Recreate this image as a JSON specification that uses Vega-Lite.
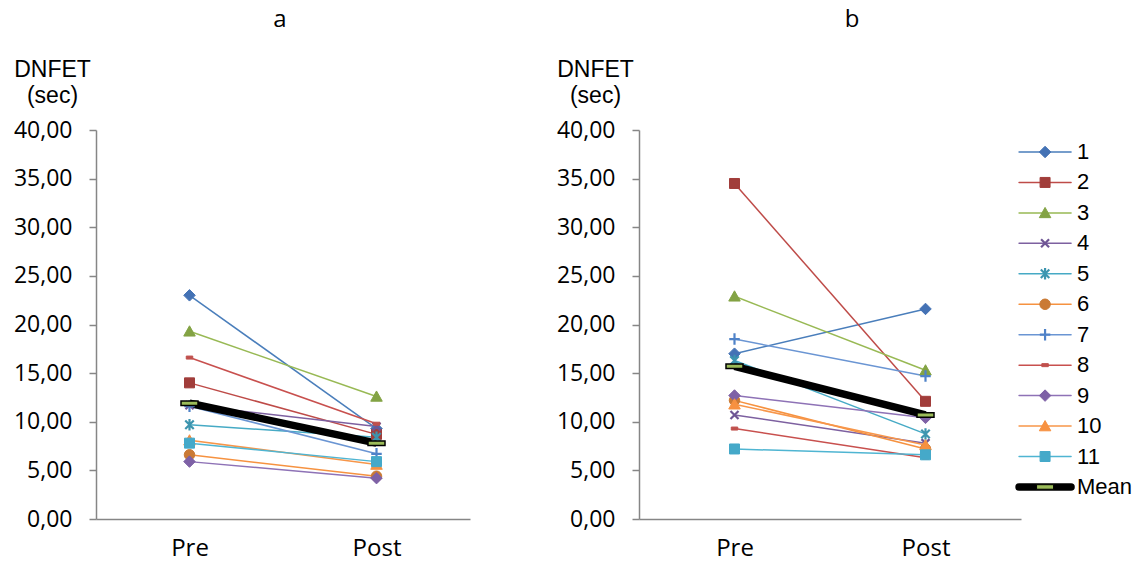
{
  "$schema": "https://vega.github.io/schema/vega-lite/v6.json",
  "background": "white",
  "padding": {"left": 13, "top": 8, "right": 0, "bottom": 0},
  "spacing": 86,
  "datasets": {
    "dnfet": [
      {"panel": "a", "series": "1", "time": "Pre", "value": 23.0},
      {"panel": "a", "series": "1", "time": "Post", "value": 9.3},
      {"panel": "a", "series": "2", "time": "Pre", "value": 14.0},
      {"panel": "a", "series": "2", "time": "Post", "value": 8.7},
      {"panel": "a", "series": "3", "time": "Pre", "value": 19.3},
      {"panel": "a", "series": "3", "time": "Post", "value": 12.6},
      {"panel": "a", "series": "4", "time": "Pre", "value": 11.7},
      {"panel": "a", "series": "4", "time": "Post", "value": 9.5},
      {"panel": "a", "series": "5", "time": "Pre", "value": 9.7},
      {"panel": "a", "series": "5", "time": "Post", "value": 8.4},
      {"panel": "a", "series": "6", "time": "Pre", "value": 6.6},
      {"panel": "a", "series": "6", "time": "Post", "value": 4.4},
      {"panel": "a", "series": "7", "time": "Pre", "value": 11.6},
      {"panel": "a", "series": "7", "time": "Post", "value": 6.7},
      {"panel": "a", "series": "8", "time": "Pre", "value": 16.6},
      {"panel": "a", "series": "8", "time": "Post", "value": 9.8},
      {"panel": "a", "series": "9", "time": "Pre", "value": 5.9},
      {"panel": "a", "series": "9", "time": "Post", "value": 4.2},
      {"panel": "a", "series": "10", "time": "Pre", "value": 8.1},
      {"panel": "a", "series": "10", "time": "Post", "value": 5.6},
      {"panel": "a", "series": "11", "time": "Pre", "value": 7.8},
      {"panel": "a", "series": "11", "time": "Post", "value": 5.9},
      {"panel": "a", "series": "Mean", "time": "Pre", "value": 11.9},
      {"panel": "a", "series": "Mean", "time": "Post", "value": 7.8},
      {"panel": "b", "series": "1", "time": "Pre", "value": 17.0},
      {"panel": "b", "series": "1", "time": "Post", "value": 21.6},
      {"panel": "b", "series": "2", "time": "Pre", "value": 34.5},
      {"panel": "b", "series": "2", "time": "Post", "value": 12.1},
      {"panel": "b", "series": "3", "time": "Pre", "value": 22.9},
      {"panel": "b", "series": "3", "time": "Post", "value": 15.3},
      {"panel": "b", "series": "4", "time": "Pre", "value": 10.7},
      {"panel": "b", "series": "4", "time": "Post", "value": 7.8},
      {"panel": "b", "series": "5", "time": "Pre", "value": 16.3},
      {"panel": "b", "series": "5", "time": "Post", "value": 8.75},
      {"panel": "b", "series": "6", "time": "Pre", "value": 12.2},
      {"panel": "b", "series": "6", "time": "Post", "value": 7.2},
      {"panel": "b", "series": "7", "time": "Pre", "value": 18.5},
      {"panel": "b", "series": "7", "time": "Post", "value": 14.7},
      {"panel": "b", "series": "8", "time": "Pre", "value": 9.3},
      {"panel": "b", "series": "8", "time": "Post", "value": 6.3},
      {"panel": "b", "series": "9", "time": "Pre", "value": 12.7},
      {"panel": "b", "series": "9", "time": "Post", "value": 10.4},
      {"panel": "b", "series": "10", "time": "Pre", "value": 11.8},
      {"panel": "b", "series": "10", "time": "Post", "value": 7.6},
      {"panel": "b", "series": "11", "time": "Pre", "value": 7.2},
      {"panel": "b", "series": "11", "time": "Post", "value": 6.6},
      {"panel": "b", "series": "Mean", "time": "Pre", "value": 15.7},
      {"panel": "b", "series": "Mean", "time": "Post", "value": 10.7}
    ],
    "legend": [
      {"series": "1"}, {"series": "2"}, {"series": "3"}, {"series": "4"},
      {"series": "5"}, {"series": "6"}, {"series": "7"}, {"series": "8"},
      {"series": "9"}, {"series": "10"}, {"series": "11"}, {"series": "Mean"}
    ]
  },
  "hconcat": [
    {
      "width": 374,
      "height": 389,
      "title": {"text": "a", "font": "Open Sans", "fontSize": 24, "fontWeight": "normal", "color": "#000000", "baseline": "alphabetic", "offset": 7, "anchor": "middle", "frame": "group", "dx": -3},
      "data": {"name": "dnfet"},
      "transform": [{"filter": "datum.panel === 'a'"}],
      "encoding": {
        "x": {"field": "time", "type": "nominal", "sort": ["Pre", "Post"], "scale": {"type": "point", "padding": 0.5},
          "axis": {"title": null, "labelFont": "Open Sans", "labelFontSize": 24, "labelColor": "#000000", "labelAngle": 0, "ticks": false, "domainColor": "#868686", "domainWidth": 1.5, "labelPadding": 17, "grid": false}},
        "y": {"field": "value", "type": "quantitative", "scale": {"domain": [0, 40], "nice": false},
          "axis": {"values": [0, 5, 10, 15, 20, 25, 30, 35, 40], "labelExpr": "replace(format(datum.value, '.2f'), '.', ',')", "labelFont": "Open Sans", "labelFontSize": 23, "labelColor": "#000000", "tickColor": "#868686", "tickSize": 7, "tickWidth": 1.5, "domainColor": "#868686", "domainWidth": 1.5, "labelPadding": 17, "grid": false,
            "title": ["DNFET", "(sec)"], "titleFont": "Liberation Sans", "titleFontSize": 23, "titleFontWeight": "normal", "titleColor": "#000000", "titleAngle": 0, "titleAlign": "center", "titleBaseline": "alphabetic", "titleX": -44, "titleY": -54, "titleLineHeight": 26}}
      },
      "layer": [
        {
          "transform": [{"filter": "datum.series !== 'Mean'"}],
          "mark": {"type": "line", "strokeWidth": 1.5},
          "encoding": {
            "color": {"field": "series", "type": "nominal", "legend": null,
              "scale": {"domain": ["1","2","3","4","5","6","7","8","9","10","11","Mean"], "range": ["#4A7EBB","#BE4B48","#98B954","#7D60A0","#46AAC5","#F69240","#6A95D3","#C8504E","#8E72B6","#F7964A","#4FB5D2","#000000"]}}
          }
        },
        {
          "transform": [{"filter": "datum.series === 'Mean'"}],
          "mark": {"type": "line", "strokeWidth": 7.5, "color": "#000000"},
          "encoding": {}
        },
        {
          "transform": [{"filter": "datum.series !== 'Mean'"}],
          "mark": {"type": "point", "filled": true, "size": 100, "opacity": 1},
          "encoding": {
            "shape": {"field": "series", "type": "nominal", "legend": null,
              "scale": {"domain": ["1","2","3","4","5","6","7","8","9","10","11","Mean"], "range": ["M0,-1.15L1.15,0L0,1.15L-1.15,0Z","M-1,-1H1V1H-1Z","M0,-1.1L1.15,0.95H-1.15Z","M-0.8,-0.8L0.8,0.8M-0.8,0.8L0.8,-0.8","M-0.85,-0.85L0.85,0.85M-0.85,0.85L0.85,-0.85M0,-1.15V1.15","M-1.05,0A1.05,1.05,0,1,0,1.05,0A1.05,1.05,0,1,0,-1.05,0Z","M-1.05,0H1.05M0,-1.15V1.15","M-0.65,-0.3H0.65V0.3H-0.65Z","M0,-1.15L1.15,0L0,1.15L-1.15,0Z","M0,-1.1L1.15,0.95H-1.15Z","M-1,-1H1V1H-1Z","M-1.7,-0.45H1.7V0.45H-1.7Z"]}},
            "fill": {"field": "series", "type": "nominal", "legend": null,
              "scale": {"domain": ["1","2","3","4","5","6","7","8","9","10","11","Mean"], "range": ["#4472B5","#A13D3A","#83A344","#6E5594","#3D95AF","#CA7A35","#4F82C8","#C0504D","#7E61A6","#F79140","#45A9C9","#9BBB59"]}},
            "stroke": {"field": "series", "type": "nominal", "legend": null,
              "scale": {"domain": ["1","2","3","4","5","6","7","8","9","10","11","Mean"], "range": ["#4472B5","#A13D3A","#83A344","#6E5594","#3D95AF","#CA7A35","#4F82C8","#C0504D","#7E61A6","#F79140","#45A9C9","#000000"]}},
            "strokeWidth": {"condition": {"test": "indexof(['4','5','7'], datum.series) >= 0", "value": 2.2}, "value": 1}
          }
        },
        {
          "transform": [{"filter": "datum.series === 'Mean'"}],
          "mark": {"type": "point", "filled": true, "size": 100, "opacity": 1, "shape": "M-1.7,-0.45H1.7V0.45H-1.7Z", "fill": "#9BBB59", "stroke": "#000000", "strokeWidth": 1.5},
          "encoding": {}
        }
      ]
    },
    {
      "width": 382,
      "height": 389,
      "title": {"text": "b", "font": "Open Sans", "fontSize": 24, "fontWeight": "normal", "color": "#000000", "baseline": "alphabetic", "offset": 7, "anchor": "middle", "frame": "group", "dx": 22},
      "resolve": {"scale": {"x": "independent", "y": "independent"}},
      "layer": [
        {
          "data": {"name": "dnfet"},
          "transform": [{"filter": "datum.panel === 'b'"}],
          "encoding": {
            "x": {"field": "time", "type": "nominal", "sort": ["Pre", "Post"], "scale": {"type": "point", "padding": 0.5},
              "axis": {"title": null, "labelFont": "Open Sans", "labelFontSize": 24, "labelColor": "#000000", "labelAngle": 0, "ticks": false, "domainColor": "#868686", "domainWidth": 1.5, "labelPadding": 17, "grid": false}},
            "y": {"field": "value", "type": "quantitative", "scale": {"domain": [0, 40], "nice": false},
              "axis": {"values": [0, 5, 10, 15, 20, 25, 30, 35, 40], "labelExpr": "replace(format(datum.value, '.2f'), '.', ',')", "labelFont": "Open Sans", "labelFontSize": 23, "labelColor": "#000000", "tickColor": "#868686", "tickSize": 7, "tickWidth": 1.5, "domainColor": "#868686", "domainWidth": 1.5, "labelPadding": 17, "grid": false,
                "title": ["DNFET", "(sec)"], "titleFont": "Liberation Sans", "titleFontSize": 23, "titleFontWeight": "normal", "titleColor": "#000000", "titleAngle": 0, "titleAlign": "center", "titleBaseline": "alphabetic", "titleX": -44, "titleY": -54, "titleLineHeight": 26}}
          },
          "layer": [
            {
              "transform": [{"filter": "datum.series !== 'Mean'"}],
              "mark": {"type": "line", "strokeWidth": 1.5},
              "encoding": {
                "color": {"field": "series", "type": "nominal", "legend": null,
                  "scale": {"domain": ["1","2","3","4","5","6","7","8","9","10","11","Mean"], "range": ["#4A7EBB","#BE4B48","#98B954","#7D60A0","#46AAC5","#F69240","#6A95D3","#C8504E","#8E72B6","#F7964A","#4FB5D2","#000000"]}}
              }
            },
            {
              "transform": [{"filter": "datum.series === 'Mean'"}],
              "mark": {"type": "line", "strokeWidth": 7.5, "color": "#000000"},
              "encoding": {}
            },
            {
              "transform": [{"filter": "datum.series !== 'Mean'"}],
              "mark": {"type": "point", "filled": true, "size": 100, "opacity": 1},
              "encoding": {
                "shape": {"field": "series", "type": "nominal", "legend": null,
                  "scale": {"domain": ["1","2","3","4","5","6","7","8","9","10","11","Mean"], "range": ["M0,-1.15L1.15,0L0,1.15L-1.15,0Z","M-1,-1H1V1H-1Z","M0,-1.1L1.15,0.95H-1.15Z","M-0.8,-0.8L0.8,0.8M-0.8,0.8L0.8,-0.8","M-0.85,-0.85L0.85,0.85M-0.85,0.85L0.85,-0.85M0,-1.15V1.15","M-1.05,0A1.05,1.05,0,1,0,1.05,0A1.05,1.05,0,1,0,-1.05,0Z","M-1.05,0H1.05M0,-1.15V1.15","M-0.65,-0.3H0.65V0.3H-0.65Z","M0,-1.15L1.15,0L0,1.15L-1.15,0Z","M0,-1.1L1.15,0.95H-1.15Z","M-1,-1H1V1H-1Z","M-1.7,-0.45H1.7V0.45H-1.7Z"]}},
                "fill": {"field": "series", "type": "nominal", "legend": null,
                  "scale": {"domain": ["1","2","3","4","5","6","7","8","9","10","11","Mean"], "range": ["#4472B5","#A13D3A","#83A344","#6E5594","#3D95AF","#CA7A35","#4F82C8","#C0504D","#7E61A6","#F79140","#45A9C9","#9BBB59"]}},
                "stroke": {"field": "series", "type": "nominal", "legend": null,
                  "scale": {"domain": ["1","2","3","4","5","6","7","8","9","10","11","Mean"], "range": ["#4472B5","#A13D3A","#83A344","#6E5594","#3D95AF","#CA7A35","#4F82C8","#C0504D","#7E61A6","#F79140","#45A9C9","#000000"]}},
                "strokeWidth": {"condition": {"test": "indexof(['4','5','7'], datum.series) >= 0", "value": 2.2}, "value": 1}
              }
            },
            {
              "transform": [{"filter": "datum.series === 'Mean'"}],
              "mark": {"type": "point", "filled": true, "size": 100, "opacity": 1, "shape": "M-1.7,-0.45H1.7V0.45H-1.7Z", "fill": "#9BBB59", "stroke": "#000000", "strokeWidth": 1.5},
              "encoding": {}
            }
          ]
        },
        {
          "data": {"name": "legend"},
          "encoding": {
            "y": {"field": "series", "type": "nominal", "axis": null,
              "scale": {"type": "point", "domain": ["1","2","3","4","5","6","7","8","9","10","11","Mean"], "padding": 0.887, "align": 0.407}}
          },
          "layer": [
            {
              "mark": {"type": "rule", "strokeCap": "round"},
              "encoding": {
                "x": {"datum": 0.995, "type": "quantitative", "scale": {"domain": [0, 1], "nice": false, "zero": true}, "axis": null},
                "x2": {"datum": 1.131},
                "color": {"field": "series", "type": "nominal", "legend": null,
                  "scale": {"domain": ["1","2","3","4","5","6","7","8","9","10","11","Mean"], "range": ["#4A7EBB","#BE4B48","#98B954","#7D60A0","#46AAC5","#F69240","#6A95D3","#C8504E","#8E72B6","#F7964A","#4FB5D2","#000000"]}},
                "strokeWidth": {"condition": {"test": "datum.series === 'Mean'", "value": 7.5}, "value": 1.5}
              }
            },
            {
              "mark": {"type": "point", "filled": true, "size": 100, "opacity": 1},
              "encoding": {
                "x": {"datum": 1.063, "type": "quantitative"},
                "shape": {"field": "series", "type": "nominal", "legend": null,
                  "scale": {"domain": ["1","2","3","4","5","6","7","8","9","10","11","Mean"], "range": ["M0,-1.15L1.15,0L0,1.15L-1.15,0Z","M-1,-1H1V1H-1Z","M0,-1.1L1.15,0.95H-1.15Z","M-0.8,-0.8L0.8,0.8M-0.8,0.8L0.8,-0.8","M-0.85,-0.85L0.85,0.85M-0.85,0.85L0.85,-0.85M0,-1.15V1.15","M-1.05,0A1.05,1.05,0,1,0,1.05,0A1.05,1.05,0,1,0,-1.05,0Z","M-1.05,0H1.05M0,-1.15V1.15","M-0.65,-0.3H0.65V0.3H-0.65Z","M0,-1.15L1.15,0L0,1.15L-1.15,0Z","M0,-1.1L1.15,0.95H-1.15Z","M-1,-1H1V1H-1Z","M-1.7,-0.45H1.7V0.45H-1.7Z"]}},
                "fill": {"field": "series", "type": "nominal", "legend": null,
                  "scale": {"domain": ["1","2","3","4","5","6","7","8","9","10","11","Mean"], "range": ["#4472B5","#A13D3A","#83A344","#6E5594","#3D95AF","#CA7A35","#4F82C8","#C0504D","#7E61A6","#F79140","#45A9C9","#9BBB59"]}},
                "stroke": {"field": "series", "type": "nominal", "legend": null,
                  "scale": {"domain": ["1","2","3","4","5","6","7","8","9","10","11","Mean"], "range": ["#4472B5","#A13D3A","#83A344","#6E5594","#3D95AF","#CA7A35","#4F82C8","#C0504D","#7E61A6","#F79140","#45A9C9","#000000"]}},
                "strokeWidth": {"condition": {"test": "indexof(['4','5','7'], datum.series) >= 0", "value": 2.2}, "value": 1}
              }
            },
            {
              "mark": {"type": "text", "align": "left", "baseline": "middle", "dx": 6, "font": "Liberation Sans", "fontSize": 22, "color": "#000000"},
              "encoding": {
                "x": {"datum": 1.131, "type": "quantitative"},
                "text": {"field": "series", "type": "nominal"}
              }
            }
          ]
        }
      ]
    }
  ],
  "config": {
    "view": {"stroke": null},
    "title": {"fontWeight": "normal"}
  }
}
